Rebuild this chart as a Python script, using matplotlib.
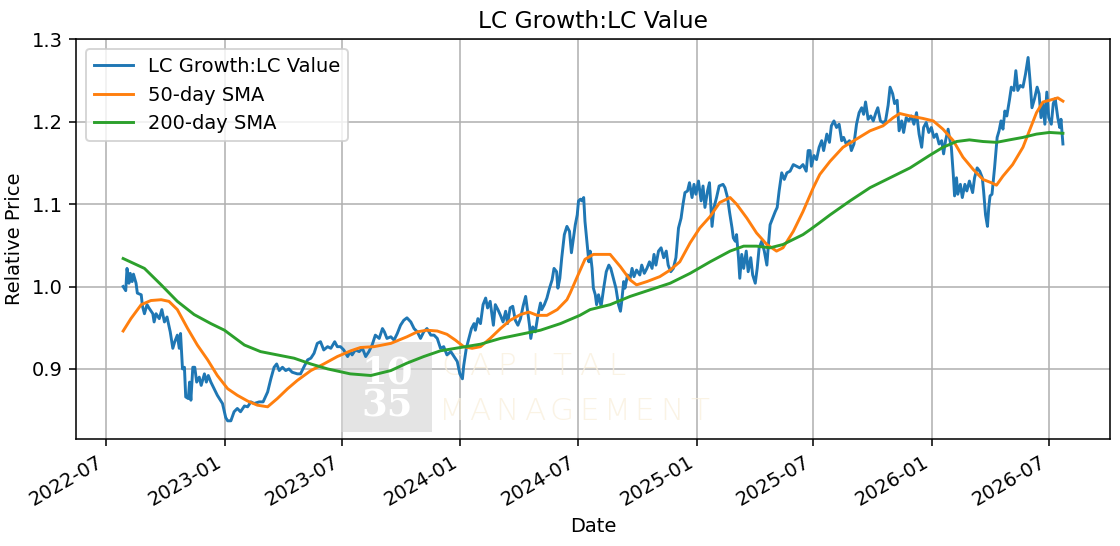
import numpy as np
import pandas as pd
import matplotlib
matplotlib.use("Agg")
import matplotlib.pyplot as plt
import matplotlib.dates as mdates
from matplotlib.patches import Rectangle

# days counted from this date
day0 = pd.Timestamp("2022-07-01")

ratio_days = [26, 30, 32, 35, 37, 40, 42, 46, 48, 54, 56, 59, 63, 66, 72, 74, 77, 82, 86, 90,
              94, 99, 103, 106, 110, 113, 115, 118, 121, 123, 127, 129, 131, 134, 137, 140, 144, 147, 152, 155,
              158, 162, 167, 172, 180, 185, 188, 193, 198, 203, 208, 214, 219, 224, 229, 237, 243, 250, 255, 260,
              264, 268, 273, 278, 283, 288, 296, 301, 306, 312, 317, 322, 327, 332, 337, 343, 348, 354, 358, 363,
              368, 374, 378,
              381, 386, 392, 397, 402, 407, 412, 417, 423, 428, 431, 435, 441, 446, 451, 456, 461, 466, 472, 477,
              482, 487, 492, 497, 503, 508, 513, 518, 523, 528, 534, 539, 544, 548, 552, 554, 558, 562, 566, 570,
              572, 576, 580, 584, 588, 591, 595, 600, 603, 607, 611, 615, 619, 622, 626, 630, 634, 638, 642, 646,
              650, 653, 656, 658, 661, 665, 669, 673, 675, 679, 683, 687, 691, 694, 698, 700, 703, 706, 710, 714,
              718, 721,
              727, 730, 732, 735, 737, 740, 742, 745, 748, 750, 753, 755, 758, 760, 763, 767, 771, 775, 779, 782,
              786, 790, 794, 797, 799, 802, 804, 808, 812, 815, 818, 822, 827, 830, 834, 838, 842, 846, 849, 852,
              856, 860, 864, 868, 871, 875, 879, 883, 887, 891, 894, 897, 901, 904, 908, 911, 914, 918, 922, 925,
              928, 932, 935, 939, 942, 946, 950, 956, 959, 963, 966, 970, 972, 975, 977, 980, 982, 985, 988, 992,
              995, 999, 1002, 1006, 1009, 1012, 1016, 1020, 1024, 1026, 1029, 1033, 1037, 1040, 1043, 1047, 1051,
              1055, 1060, 1065, 1070, 1075, 1080, 1085, 1088,
              1091, 1093, 1097, 1101, 1105, 1109, 1112, 1117, 1121, 1124, 1128, 1132, 1136, 1140, 1143, 1147, 1152,
              1155, 1159, 1163, 1167, 1171, 1174, 1177, 1181, 1185, 1189, 1193, 1196, 1200, 1204, 1208, 1212, 1215,
              1219, 1222, 1226, 1229, 1233, 1236, 1240, 1244, 1248, 1252, 1256, 1260, 1264, 1267, 1271, 1275, 1279,
              1283, 1287, 1291, 1295, 1298, 1301, 1305, 1307, 1310, 1313, 1315, 1318, 1320, 1324, 1327, 1331, 1334,
              1338, 1343, 1346, 1350, 1354, 1358, 1360, 1363, 1366, 1368, 1370, 1373, 1377, 1381, 1384, 1387, 1390,
              1393, 1396, 1400, 1403, 1407, 1410, 1413, 1417, 1421, 1425, 1429, 1432, 1435, 1439, 1443, 1446, 1449,
              1452, 1455, 1458, 1461, 1465, 1468, 1471, 1475, 1478, 1480, 1483]
ratio_vals = [1.000, 0.995, 1.022, 1.004, 1.016, 1.006, 1.015, 1.004, 0.992, 0.990, 0.976, 0.967, 0.978, 0.974, 0.967, 0.957, 0.967, 0.961, 0.972, 0.957,
              0.963, 0.945, 0.925, 0.933, 0.941, 0.925, 0.943, 0.900, 0.902, 0.866, 0.864, 0.884, 0.862, 0.902, 0.902, 0.884, 0.890, 0.880, 0.894, 0.884,
              0.892, 0.884, 0.876, 0.868, 0.858, 0.841, 0.837, 0.837, 0.848, 0.852, 0.848, 0.855, 0.854, 0.860, 0.858, 0.860, 0.860, 0.872, 0.888, 0.902,
              0.906, 0.898, 0.902, 0.898, 0.900, 0.896, 0.894, 0.894, 0.902, 0.911, 0.913, 0.919, 0.931, 0.933, 0.923, 0.927, 0.925, 0.933, 0.927, 0.927,
              0.923, 0.915, 0.921,
              0.917, 0.923, 0.921, 0.925, 0.915, 0.921, 0.929, 0.941, 0.937, 0.949, 0.945, 0.937, 0.939, 0.935, 0.943, 0.953, 0.959, 0.962, 0.957, 0.949,
              0.945, 0.937, 0.945, 0.949, 0.941, 0.941, 0.937, 0.925, 0.927, 0.917, 0.921, 0.915, 0.909, 0.894, 0.888, 0.904, 0.925, 0.937, 0.949, 0.955,
              0.947, 0.961, 0.955, 0.978, 0.986, 0.974, 0.982, 0.953, 0.978, 0.972, 0.965, 0.957, 0.970, 0.955, 0.974, 0.976, 0.959, 0.953, 0.961, 0.976,
              0.988, 0.970, 0.953, 0.937, 0.951, 0.945, 0.965, 0.980, 0.972, 0.978, 0.986, 0.998, 1.008, 1.022, 1.018, 0.998, 1.010, 1.035, 1.063, 1.073,
              1.067, 1.041,
              1.075, 1.087, 1.104, 1.106, 1.104, 1.108, 1.079, 1.055, 1.030, 1.043, 1.022, 0.998, 0.990, 0.978, 0.990, 0.976, 0.998, 1.018, 1.026, 1.022,
              1.010, 0.998, 0.978, 0.970, 0.982, 1.006, 0.998, 1.014, 1.010, 1.022, 1.012, 1.020, 1.014, 1.026, 1.016, 1.022, 1.030, 1.022, 1.039, 1.026,
              1.043, 1.047, 1.035, 1.043, 1.026, 1.018, 1.022, 1.035, 1.071, 1.083, 1.100, 1.114, 1.116, 1.126, 1.108, 1.124, 1.112, 1.128, 1.104, 1.122,
              1.096, 1.116, 1.126, 1.073, 1.096, 1.108, 1.122, 1.124, 1.120, 1.108, 1.091, 1.071, 1.059, 1.055, 1.063, 1.035, 1.010, 1.039, 1.022, 1.043,
              1.018, 1.035, 1.014, 1.004, 1.022, 1.047, 1.055, 1.043, 1.026, 1.047, 1.075, 1.083, 1.091, 1.096, 1.116, 1.138, 1.130,
              1.138, 1.140, 1.148, 1.146, 1.144, 1.148, 1.140, 1.165,
              1.165, 1.146, 1.159, 1.154, 1.169, 1.177, 1.165, 1.185, 1.175, 1.195, 1.201, 1.193, 1.197, 1.177, 1.181, 1.173, 1.177,
              1.165, 1.173, 1.197, 1.211, 1.217, 1.209, 1.224, 1.203, 1.207, 1.201, 1.211, 1.217, 1.201, 1.199, 1.201, 1.220, 1.242,
              1.234, 1.222, 1.226, 1.189, 1.201, 1.187, 1.205, 1.201, 1.207, 1.197, 1.211, 1.185, 1.169, 1.193, 1.199, 1.187, 1.193,
              1.181, 1.185, 1.173, 1.177, 1.161, 1.177, 1.191, 1.181, 1.169, 1.136, 1.110, 1.132, 1.112, 1.124, 1.108, 1.124, 1.116,
              1.128, 1.114, 1.132, 1.144, 1.140, 1.132, 1.116, 1.087, 1.073, 1.096, 1.110, 1.112, 1.144, 1.181, 1.189, 1.201, 1.191,
              1.213, 1.207, 1.226, 1.242, 1.238, 1.262, 1.238, 1.244, 1.242, 1.258, 1.278, 1.250, 1.217, 1.228, 1.242, 1.234, 1.205,
              1.222, 1.197, 1.236, 1.205, 1.197, 1.222, 1.228, 1.205, 1.193, 1.203, 1.173]

sma50_days = [26, 38, 54, 69, 85, 97, 110, 126, 141, 157, 172, 188, 203, 219, 234, 250, 265, 281, 296, 317,
              337, 358, 379, 394, 415, 441, 466, 482, 497, 513, 528, 541, 554, 567, 580, 595, 611, 626, 642, 655,
              668, 683, 699, 714, 719, 729, 742, 755, 771, 781, 797, 812, 822, 838, 858, 874, 889, 905, 920, 936,
              951, 967, 977, 993, 1008, 1024, 1039, 1049, 1065, 1080, 1096, 1106, 1122, 1142, 1163, 1184, 1204, 1220, 1230, 1246,
              1266, 1282, 1297, 1313, 1328, 1344, 1359, 1372, 1380, 1390, 1405, 1421, 1431, 1442, 1452, 1462, 1475, 1483]
sma50_vals = [0.946, 0.961, 0.978, 0.983, 0.984, 0.982, 0.972, 0.949, 0.929, 0.911, 0.892, 0.876, 0.868, 0.861, 0.856, 0.854, 0.864, 0.876, 0.886, 0.898,
              0.906, 0.915, 0.922, 0.926, 0.927, 0.931, 0.939, 0.945, 0.947, 0.946, 0.942, 0.935, 0.927, 0.925, 0.927, 0.937, 0.949, 0.959, 0.966, 0.969,
              0.965, 0.965, 0.972, 0.984, 0.992, 1.010, 1.033, 1.039, 1.039, 1.039, 1.024, 1.008, 1.002, 1.006, 1.012, 1.020, 1.030, 1.053, 1.071, 1.085,
              1.102, 1.108, 1.100, 1.083, 1.065, 1.051, 1.043, 1.047, 1.067, 1.091, 1.120, 1.136, 1.152, 1.169, 1.179, 1.189, 1.195, 1.205, 1.210, 1.207,
              1.204, 1.201, 1.191, 1.177, 1.157, 1.142, 1.130, 1.126, 1.123, 1.134, 1.148, 1.169, 1.189, 1.211, 1.224, 1.226, 1.229, 1.225]

sma200_days = [26, 59, 85, 110, 136, 162, 183, 214, 239, 265, 291, 317, 343, 378, 410, 441, 466, 492, 518, 549,
               580, 611, 642, 673, 704, 734, 750, 781, 812, 843, 874, 905, 936, 967, 988, 1008, 1029, 1049, 1080, 1091,
               1105, 1122, 1153, 1184, 1215, 1246, 1276, 1297, 1318, 1338, 1359, 1380, 1400, 1421, 1442, 1462, 1483]
sma200_vals = [1.034, 1.022, 1.002, 0.982, 0.966, 0.955, 0.947, 0.929, 0.921, 0.917, 0.913, 0.906, 0.900, 0.894, 0.892, 0.898, 0.907, 0.915, 0.922, 0.926,
               0.930, 0.937, 0.942, 0.947, 0.955, 0.965, 0.972, 0.978, 0.988, 0.996, 1.004, 1.016, 1.030, 1.043, 1.049, 1.049, 1.047, 1.051, 1.063, 1.069,
               1.077, 1.087, 1.104, 1.120, 1.132, 1.144, 1.159, 1.169, 1.176, 1.178, 1.176, 1.175, 1.178, 1.181, 1.185, 1.187, 1.186]


def to_dates(days):
    return day0 + pd.to_timedelta(np.array(days), unit="D")


fig, ax = plt.subplots(figsize=(8, 3.9), dpi=140)
ax.plot(to_dates(ratio_days), ratio_vals, label="LC Growth:LC Value")
ax.plot(to_dates(sma50_days), sma50_vals, label="50-day SMA")
ax.plot(to_dates(sma200_days), sma200_vals, label="200-day SMA")

ax.set_title("LC Growth:LC Value")
ax.set_xlabel("Date")
ax.set_ylabel("Relative Price")
ax.xaxis.set_major_locator(mdates.MonthLocator(bymonth=[1, 7]))
ax.xaxis.set_major_formatter(mdates.DateFormatter("%Y-%m"))
ax.grid(True)
ax.legend(loc="upper left")
fig.autofmt_xdate()
fig.subplots_adjust(left=0.068, right=0.991, top=0.928, bottom=0.196)

# watermark: over the grid, under the lines
tf = fig.transFigure
ax.add_patch(Rectangle((0.3045, 0.2088), 0.0812, 0.1648, transform=tf,
                       facecolor="#d6d6d6", alpha=0.65, edgecolor="none", zorder=1.6))
for txt, yy in [("10", 0.3168), ("35", 0.2546)]:
    ax.text(0.3455, yy, txt, transform=tf, color="white", fontsize=19, family="DejaVu Serif",
            fontweight="bold", ha="center", va="center", zorder=1.7)
for word, yy in [("CAPITAL", 0.3284), ("MANAGEMENT", 0.246)]:
    for i, ch in enumerate(word):
        ax.text((452 + i * 27.5) / 1120, yy, ch, transform=tf, color="#f9efdc", alpha=0.75,
                fontsize=16, family="DejaVu Sans", fontweight="light",
                ha="center", va="center", zorder=1.7)

fig.savefig("out.png")
